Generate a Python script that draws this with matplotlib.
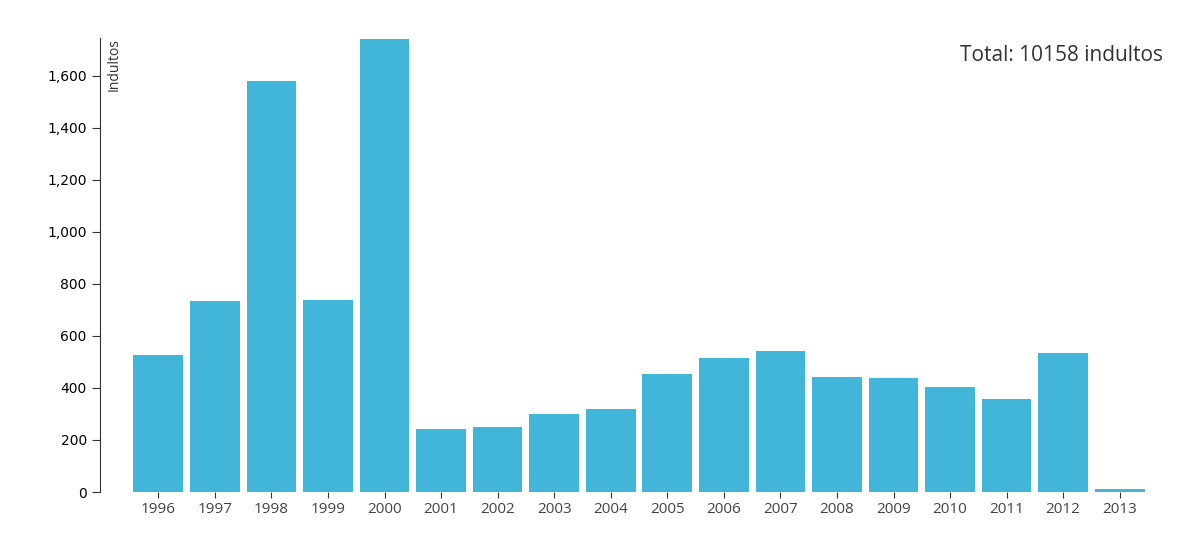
import matplotlib
matplotlib.use("Agg")
import matplotlib.pyplot as plt

years = ["1996","1997","1998","1999","2000","2001","2002","2003","2004","2005",
         "2006","2007","2008","2009","2010","2011","2012","2013"]
values = [527, 735, 1581, 738, 1742, 242, 250, 300, 319, 454,
          515, 542, 442, 438, 404, 358, 535, 12]
yticks = [0, 200, 400, 600, 800, 1000, 1200, 1400, 1600]

fig = plt.figure(figsize=(12, 5.55), dpi=100)
ax = fig.add_axes([130/1200, 1-492/555, 1018/1200, (492-38)/555])
x = list(range(len(years)))
ax.bar(x, values, width=0.88, color="#41b6d9")
ax.set_xlim(-0.5, len(years)-0.5)
ax.set_ylim(0, 1745)
ax.set_xticks(x)
ax.set_xticklabels(years, fontsize=11, color="#444444", family="Open Sans")
ax.set_yticks(yticks)
ax.set_yticklabels([f"{v:,}" for v in yticks], fontsize=11, color="#444444", family="Open Sans")
for s in ["top", "right", "bottom"]:
    ax.spines[s].set_visible(False)
ax.spines["left"].set_position(("outward", 21.6))
ax.spines["left"].set_color("#333333")
ax.tick_params(axis="y", length=6, color="#333333")
ax.tick_params(axis="x", length=4, color="#333333")
ax.text(-0.008, 1, "Indultos", transform=ax.transAxes, rotation=90,
        ha="right", va="top", fontsize=10, family="Open Sans", color="#333333")
ax.text(1.015, 0.985, "Total: 10158 indultos", transform=ax.transAxes, ha="right", va="top",
        fontsize=15, family="Open Sans", color="#333333")
fig.savefig("out.png")
